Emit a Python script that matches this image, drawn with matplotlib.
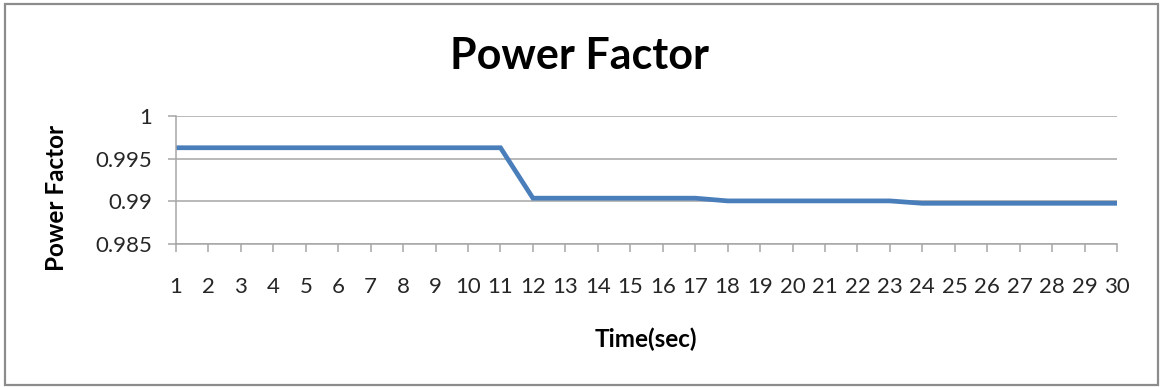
import matplotlib.pyplot as plt
from matplotlib.patches import Rectangle

plt.rcParams['font.family'] = ['Lato', 'DejaVu Sans']

# power factor sampled once per second
time_sec = list(range(1, 31))
power_factor = [0.99628] * 11 + [0.99037] * 6 + [0.99005] * 6 + [0.98977] * 7
y_ticks = [0.985, 0.99, 0.995, 1]
y_tick_labels = ['0.985', '0.99', '0.995', '1']

fig = plt.figure(figsize=(11.6, 3.87), dpi=100)
ax = fig.add_axes([176 / 1160, 1 - 244 / 387, (1117 - 176) / 1160, (244 - 116) / 387])

ax.plot(time_sec, power_factor, color='#4a7ebb', linewidth=3.4, solid_joinstyle='miter')

ax.set_xlim(1, 30)
ax.set_ylim(0.985, 1)
ax.set_xticks(time_sec)
ax.set_xticklabels([str(t) for t in time_sec])
ax.set_yticks(y_ticks)
ax.set_yticklabels(y_tick_labels)

ax.grid(axis='y', color='#a6a6a6', linewidth=1.1)
ax.set_axisbelow(True)
for side in ('top', 'right'):
    ax.spines[side].set_visible(False)
for side in ('left', 'bottom'):
    ax.spines[side].set_color('#a6a6a6')
    ax.spines[side].set_linewidth(1.1)
ax.tick_params(axis='both', direction='out', length=6, width=1.1, color='#a6a6a6',
               labelsize=16, labelcolor='#262626')
ax.tick_params(axis='x', pad=18)
ax.tick_params(axis='y', pad=11)

fig.text(580 / 1160, 1 - 56 / 387, 'Power Factor', ha='center', va='center',
         fontsize=31, fontweight='bold')
fig.text(646 / 1160, 1 - 339 / 387, 'Time(sec)', ha='center', va='center',
         fontsize=17.5, fontweight='bold')
fig.text(57 / 1160, 1 - 198 / 387, 'Power Factor', ha='center', va='center',
         rotation=90, fontsize=17.5, fontweight='bold')

# chart area frame
fig.patches.append(Rectangle((5 / 1160, 2 / 387), 1153 / 1160, 381 / 387,
                             transform=fig.transFigure, fill=False,
                             edgecolor='#8c8c8c', linewidth=1.6))

fig.savefig('out.png', dpi=100, facecolor='white')
